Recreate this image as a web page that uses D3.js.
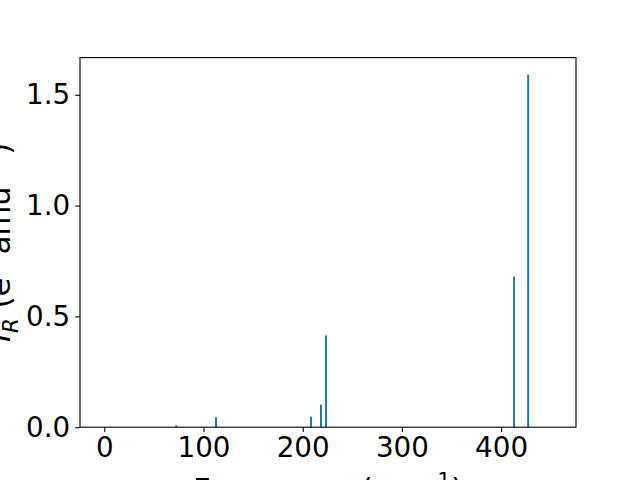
<!DOCTYPE html>
<html>
<head>
<meta charset="utf-8">
<script src="https://cdn.jsdelivr.net/npm/d3@7"></script>
<style>
  html, body { margin: 0; padding: 0; background: #fff; }
  svg text { font-family: "DejaVu Sans", sans-serif; fill: #000; }
</style>
</head>
<body>
<svg id="chart" width="640" height="480"></svg>
<script>
// Data
const frequencies = [72.5, 112.6, 208.4, 218.4, 223.5, 413.1, 427.3];
const intensities = [0.008, 0.045, 0.048, 0.102, 0.414, 0.680, 1.591];
const xTicks = [0, 100, 200, 300, 400];
const yTicks = [0.0, 0.5, 1.0, 1.5];
const xDomain = [-24.5, 475.5];
const yDomain = [0, 1.6676];
const barWidth = 2;

const W = 640, H = 480;
const m = { left: 80, right: 576, top: 57.6, bottom: 427.2 };
const fs = 27.78;   // tick labels
const lfs = 30.6;   // axis labels
const svg = d3.select("#chart");

const x = d3.scaleLinear().domain(xDomain).range([m.left, m.right]);
const y = d3.scaleLinear().domain(yDomain).range([m.bottom, m.top]);

// bars
svg.append("g").selectAll("rect")
  .data(frequencies.map((f, i) => ({ f, v: intensities[i] })))
  .join("rect")
  .attr("x", d => x(d.f - barWidth / 2))
  .attr("width", d => x(d.f + barWidth / 2) - x(d.f - barWidth / 2))
  .attr("y", d => y(d.v))
  .attr("height", d => y(0) - y(d.v))
  .attr("fill", "#1f77b4");

// axes
const xAxis = d3.axisBottom(x).tickValues(xTicks).tickFormat(d3.format("d"))
  .tickSize(4.86).tickPadding(4.86);
const yAxis = d3.axisLeft(y).tickValues(yTicks).tickFormat(d3.format(".1f"))
  .tickSize(4.86).tickPadding(4.86);

const gx = svg.append("g").attr("transform", `translate(0,${m.bottom})`).call(xAxis);
const gy = svg.append("g").attr("transform", `translate(${m.left},0)`).call(yAxis);
[gx, gy].forEach(g => {
  g.select(".domain").remove();
  g.selectAll(".tick line").attr("stroke", "#000").attr("stroke-width", 1.1);
  g.selectAll(".tick text").attr("font-size", fs).attr("font-family", "DejaVu Sans").attr("fill", "#000");
});

// frame
svg.append("rect")
  .attr("x", m.left).attr("y", m.top)
  .attr("width", m.right - m.left).attr("height", m.bottom - m.top)
  .attr("fill", "none").attr("stroke", "#000").attr("stroke-width", 1.1);

// x label
const xl = svg.append("text")
  .attr("x", (m.left + m.right) / 2).attr("y", 500)
  .attr("text-anchor", "middle").attr("font-size", lfs);
xl.append("tspan").text("Frequency (cm");
xl.append("tspan").attr("font-size", lfs * 0.7).attr("dy", -lfs * 0.4).text("\u22121");
xl.append("tspan").attr("dy", lfs * 0.4).text(")");

// y label
const yl = svg.append("text")
  .attr("transform", `translate(10,${(m.top + m.bottom) / 2}) rotate(-90)`)
  .attr("text-anchor", "middle").attr("font-size", lfs);
yl.append("tspan").attr("font-style", "italic").text("I");
yl.append("tspan").attr("font-style", "italic").attr("font-size", lfs * 0.7).attr("dy", lfs * 0.25).text("R");
yl.append("tspan").attr("dy", -lfs * 0.25).text(" (e");
yl.append("tspan").attr("font-size", lfs * 0.7).attr("dy", -lfs * 0.4).text("2");
yl.append("tspan").attr("dy", lfs * 0.4).text(" amu");
yl.append("tspan").attr("font-size", lfs * 0.7).attr("dy", -lfs * 0.4).text("\u22121");
yl.append("tspan").attr("dy", lfs * 0.4).text(")");
</script>
</body>
</html>
